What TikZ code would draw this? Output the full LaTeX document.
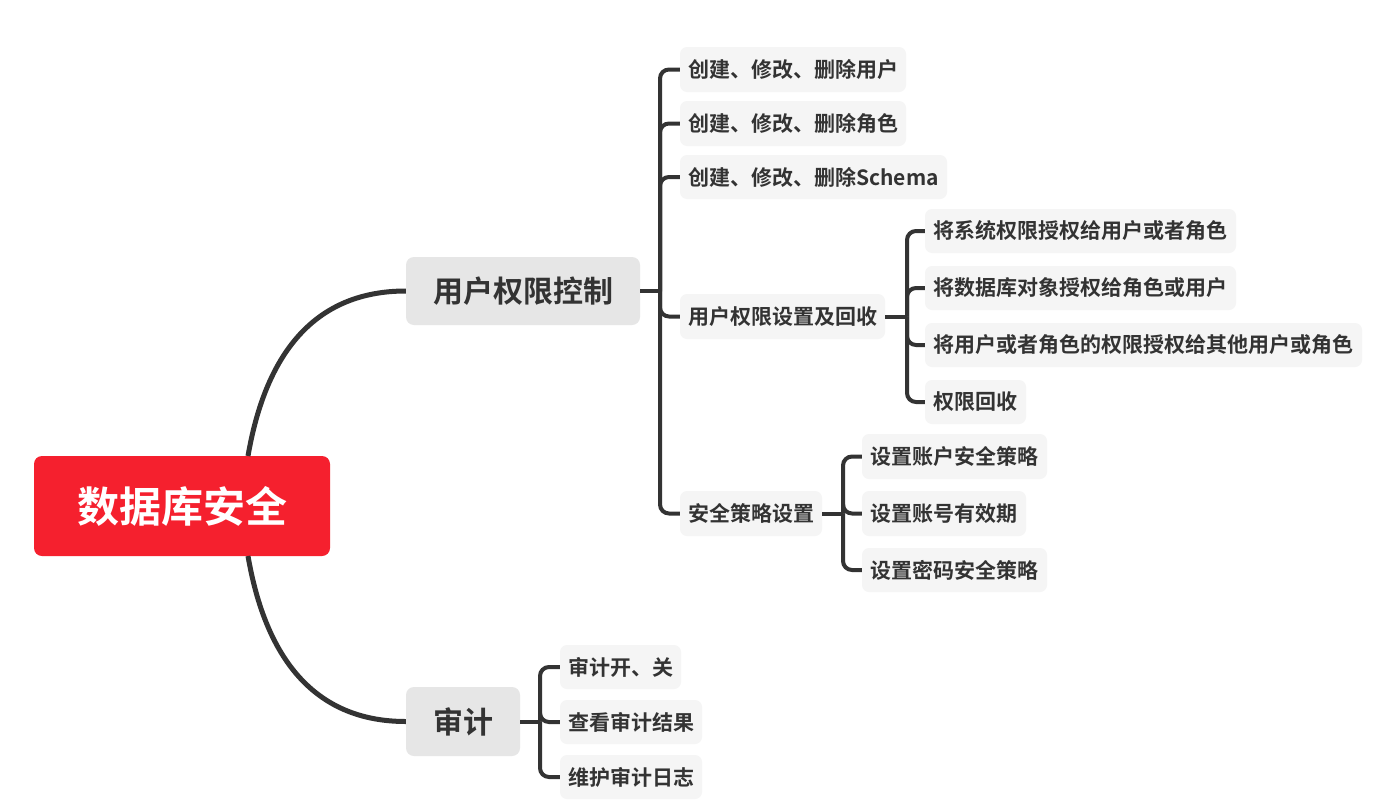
\documentclass[tikz,border=0pt]{standalone}
\usepackage{fontspec}
\newfontfamily\cjk{Noto Sans CJK SC}[BoldFont={Noto Sans CJK SC Bold}]
\definecolor{rootred}{RGB}{245,32,46}
\definecolor{lvone}{RGB}{230,230,230}
\definecolor{lvtwo}{RGB}{245,245,245}
\definecolor{ink}{RGB}{51,51,51}
\begin{document}
\begin{tikzpicture}[x=1pt,y=-1pt,
  box/.style={rectangle,inner sep=0pt,anchor=center,font=\cjk\bfseries,text=ink},
  rootbox/.style={box,fill=rootred,rounded corners=8pt,text=white,font=\cjk\bfseries\fontsize{42}{46}\selectfont},
  onebox/.style={box,fill=lvone,rounded corners=8pt,font=\cjk\bfseries\fontsize{30}{34}\selectfont},
  twobox/.style={box,fill=lvtwo,rounded corners=7pt,font=\cjk\bfseries\fontsize{21}{24}\selectfont},
  mainline/.style={draw=ink,line width=5pt},
  brline/.style={draw=ink,line width=4pt,rounded corners=9pt}]
\useasboundingbox (0,0) rectangle (1383,806);
\fill[white] (0,0) rectangle (1383,806);

% nodes: center positions and sizes
\node[rootbox,minimum width=296pt,minimum height=100pt] (root) at (182,506) {数据库安全};
\node[onebox,minimum width=234pt,minimum height=68pt] (perm) at (523,291) {用户权限控制};
\node[onebox,minimum width=114pt,minimum height=69pt] (audit) at (463,721.5) {审计};

\node[twobox,minimum width=226pt,minimum height=45pt] (c1) at (793,69.5) {创建、修改、删除用户};
\node[twobox,minimum width=226pt,minimum height=45pt] (c2) at (793,123.5) {创建、修改、删除角色};
\node[twobox,minimum width=267pt,minimum height=44pt] (c3) at (813.5,177) {创建、修改、删除Schema};
\node[twobox,minimum width=205pt,minimum height=45pt] (c4) at (782.5,316.5) {用户权限设置及回收};
\node[twobox,minimum width=142pt,minimum height=45pt] (c5) at (751,513.5) {安全策略设置};

\node[twobox,minimum width=311pt,minimum height=44pt] (g1) at (1080.5,231) {将系统权限授权给用户或者角色};
\node[twobox,minimum width=311pt,minimum height=44pt] (g2) at (1080.5,288) {将数据库对象授权给角色或用户};
\node[twobox,minimum width=437pt,minimum height=44pt] (g3) at (1143.5,345) {将用户或者角色的权限授权给其他用户或角色};
\node[twobox,minimum width=101pt,minimum height=44pt] (g4) at (975.5,402) {权限回收};

\node[twobox,minimum width=185pt,minimum height=45pt] (s1) at (954.5,456.5) {设置账户安全策略};
\node[twobox,minimum width=164pt,minimum height=45pt] (s2) at (944,513.5) {设置账号有效期};
\node[twobox,minimum width=185pt,minimum height=44pt] (s3) at (954.5,570) {设置密码安全策略};

\node[twobox,minimum width=121pt,minimum height=44pt] (a1) at (620.5,667) {审计开、关};
\node[twobox,minimum width=142pt,minimum height=44pt] (a2) at (631,722) {查看审计结果};
\node[twobox,minimum width=142pt,minimum height=44pt] (a3) at (631,777) {维护审计日志};

% root curves
\coordinate (rtop) at (248,456);
\coordinate (rbot) at (248,556);
\draw[mainline] (rtop) .. controls (268,340) and (325,291) .. (perm.west);
\draw[mainline] (rbot) .. controls (268,672) and (325,721.5) .. (audit.west);

% junction coordinates
\coordinate (pj) at (660,291);
\coordinate (gj) at (907,316.5);
\coordinate (sj) at (843,513.5);
\coordinate (aj) at (540,721.5);

\draw[brline] (perm.east) -- (pj);
\foreach \c in {c1,c2,c3,c4,c5} \draw[brline] (pj) |- (\c.west);

\draw[brline] (c4.east) -- (gj);
\foreach \c in {g1,g2,g3,g4} \draw[brline] (gj) |- (\c.west);

\draw[brline] (c5.east) -- (sj);
\foreach \c in {s1,s2,s3} \draw[brline] (sj) |- (\c.west);

\draw[brline] (audit.east) -- (aj);
\foreach \c in {a1,a2,a3} \draw[brline] (aj) |- (\c.west);
\end{tikzpicture}
\end{document}
